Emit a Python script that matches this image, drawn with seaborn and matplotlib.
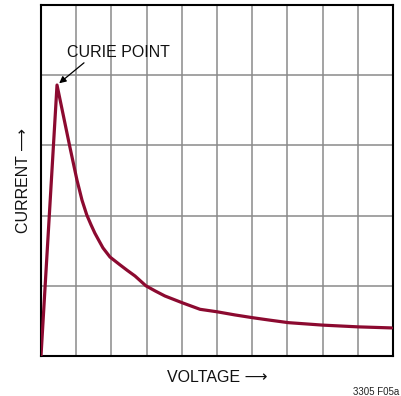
import matplotlib
matplotlib.use("Agg")
import matplotlib.pyplot as plt
import seaborn as sns
import pandas as pd

# Current vs. voltage curve of a PTC thermistor (arbitrary units)
voltage = [0.0, 0.455, 0.815, 1.02, 1.165, 1.30, 1.42, 1.53, 1.65, 1.76,
           1.96, 2.24, 2.45, 2.67, 2.98, 3.25, 3.52, 4.03, 4.52, 5.00,
           5.51, 6.02, 6.51, 7.03, 8.00, 9.01, 9.96]
current = [0.0, 3.86, 2.99, 2.51, 2.22, 2.01, 1.87, 1.75, 1.64, 1.54,
           1.41, 1.30, 1.22, 1.14, 1.00, 0.925, 0.855, 0.755, 0.665, 0.63,
           0.585, 0.545, 0.51, 0.475, 0.44, 0.415, 0.40]
curie_voltage = voltage[1]
curie_current = current[1]

sns.set_theme(style="white")
plt.rcParams["font.family"] = ["Liberation Sans", "DejaVu Sans"]

df = pd.DataFrame({"voltage": voltage, "current": current})

fig = plt.figure(figsize=(4.02, 3.96), dpi=100)
ax = fig.add_axes([41 / 402, 1 - 356 / 396, 352 / 402, 351 / 396])

sns.lineplot(data=df, x="voltage", y="current", ax=ax, color="#8c0a30",
             linewidth=2.3, estimator=None, sort=False, zorder=3)

ax.set_xlim(0, 10)
ax.set_ylim(0, 5)
ax.set_xticks(range(0, 11))
ax.set_yticks(range(0, 6))
ax.grid(True, color="#8a8a8a", linewidth=1.1)
ax.tick_params(left=False, bottom=False, labelleft=False, labelbottom=False)
for sp in ax.spines.values():
    sp.set_color("black")
    sp.set_linewidth(1.5)

ax.set_xlabel("VOLTAGE \u27f6", fontsize=11.5, color="#111111", labelpad=10)
ax.set_ylabel("CURRENT \u27f6", fontsize=11.5, color="#111111", labelpad=7)

ax.annotate("CURIE POINT", xy=(curie_voltage, curie_current),
            xytext=(0.75, 4.33), textcoords="data",
            fontsize=11.5, color="#111111", va="center", ha="left",
            arrowprops=dict(arrowstyle="-|>", color="black", lw=0.9,
                            shrinkA=0, shrinkB=2, mutation_scale=10,
                            relpos=(0.2, 0.0)))

fig.text(399 / 402, 1 - 392 / 396, "3305 F05a", fontsize=7, ha="right",
         va="center", color="#222222")

fig.savefig("out.png", dpi=100)
